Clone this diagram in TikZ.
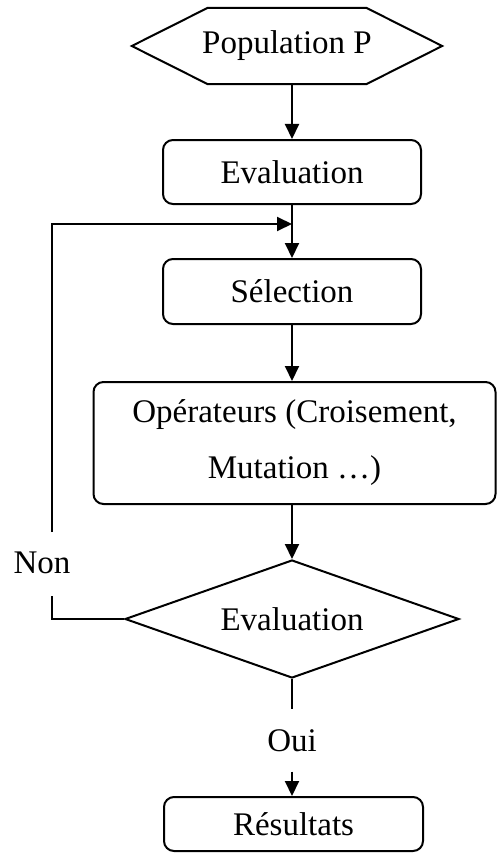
\documentclass[tikz,border=0pt]{standalone}
\usepackage{fontspec}
\setmainfont{Liberation Serif}
\usetikzlibrary{shapes.geometric, arrows.meta}

\begin{document}
\begin{tikzpicture}[x=1pt, y=-1pt, font=\fontsize{33}{40}\selectfont]

        \tikzstyle{roundbox} = [draw, rounded corners=10pt, line width=2pt, text centered, inner sep=0];
        \tikzstyle{hexnode} = [inner sep=0, minimum width=310pt, minimum height=76pt];
        \tikzstyle{decnode} = [draw, diamond, aspect=2.83, line width=2pt, inner sep=0, minimum width=334pt, minimum height=118pt];
        \tikzstyle{plain} = [line width=2pt];
        \tikzstyle{arrow} = [line width=2pt, -{Triangle[length=15pt, width=14pt]}];

        \useasboundingbox (0,0) rectangle (497,856);

        \node[hexnode] (Pop) at (287,46) {Population P};
        \draw [plain, line join=miter] (Pop.west) -- ([xshift=76pt]Pop.north west) -- ([xshift=-76pt]Pop.north east)
              -- (Pop.east) -- ([xshift=-76pt]Pop.south east) -- ([xshift=76pt]Pop.south west) -- cycle;

        \node[roundbox, minimum width=258pt, minimum height=64pt] (Eval) at (292,172) {Evaluation};
        \node[roundbox, minimum width=258pt, minimum height=65pt] (Sel) at (292,291.5) {Sélection};
        \node[roundbox, minimum width=402pt, minimum height=122pt, align=center, font=\fontsize{33}{56}\selectfont] (Ops) at (294.5,443) {Opérateurs (Croisement,\\Mutation …)};

        \node[decnode] (Dec) at (292,619) {Evaluation};

        \node[anchor=base, inner sep=20pt] (Oui) at (292,751) {Oui};
        \node[roundbox, minimum width=259pt, minimum height=54pt] (Res) at (293.5,824) {Résultats};

        \node[anchor=base] (Non) at (42,573) {Non};

        \coordinate (Join) at (292,224);
        \coordinate (NonT) at (52,532);
        \coordinate (NonB) at (52,596);


        \draw [arrow] (Pop.south -| Eval.north) -- (Eval.north);
        \draw [arrow] (Eval) -- (Sel);
        \draw [arrow] (Sel.south) -- (Sel.south |- Ops.north);
        \draw [arrow] (Ops.south -| Dec.north) -- (Dec.north);

        \draw [plain] (Dec.west) -| (NonB);
        \draw [arrow] (NonT) |- (Join);

        \draw [plain] (Dec.south) -- (Oui.north);
        \draw [arrow] (Oui.south) -- (Oui.south |- Res.north);

    \end{tikzpicture}
\end{document}
